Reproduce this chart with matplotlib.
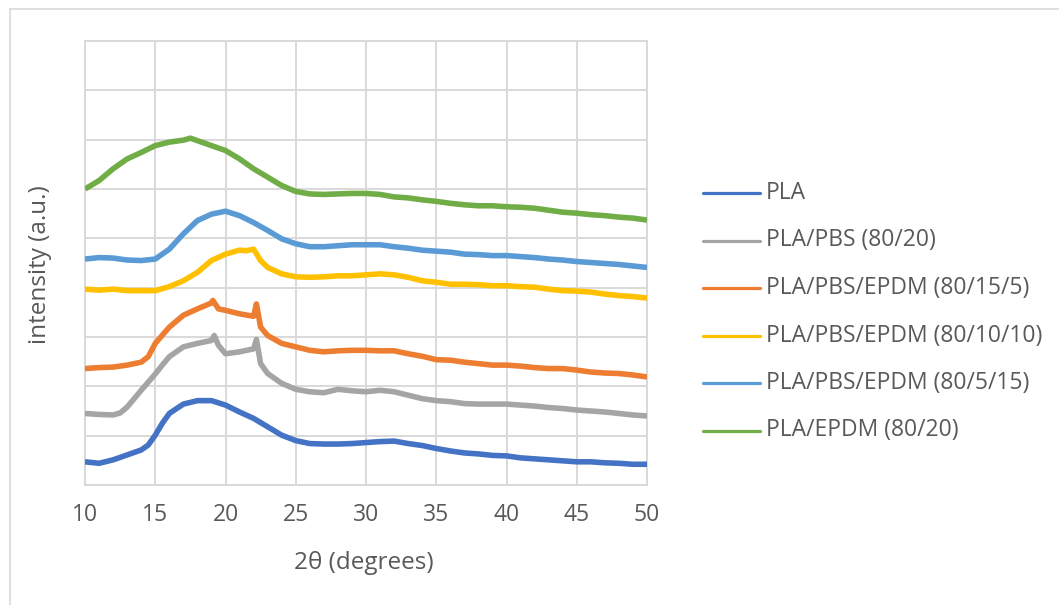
import matplotlib
matplotlib.use("Agg")
import matplotlib.pyplot as plt
from matplotlib.lines import Line2D

# ---- data: XRD patterns (intensity in arbitrary units, stacked) ----
pla_x = [10, 11, 12, 13, 14, 14.5, 15, 15.5, 16, 17, 18, 19, 20, 21, 22, 23, 24, 25, 26, 27, 28, 29,
         30, 31, 32, 33, 34, 35, 36, 37, 38, 39, 40, 41, 42, 43, 44, 45, 46, 47, 48, 49, 50]
pla_y = [0.47, 0.44, 0.51, 0.61, 0.71, 0.81, 1.01, 1.25, 1.45, 1.64, 1.71, 1.71, 1.62, 1.48, 1.35, 1.18,
         1.01, 0.90, 0.84, 0.83, 0.83, 0.84, 0.86, 0.88, 0.89, 0.84, 0.80, 0.74, 0.69, 0.65, 0.63, 0.60,
         0.59, 0.55, 0.53, 0.51, 0.49, 0.47, 0.47, 0.45, 0.44, 0.42, 0.42]

pbs_x = [10, 11, 12, 12.5, 13, 14, 15, 15.5, 16, 17, 18, 19, 19.2, 19.5, 20, 21, 21.5, 22, 22.2, 22.5,
         23, 24, 25, 26, 27, 28, 29, 30, 31, 32, 33, 34, 35, 36, 37, 38, 39, 40, 41, 42, 43, 44, 45,
         46, 47, 48, 49, 50]
pbs_y = [1.45, 1.43, 1.42, 1.46, 1.58, 1.92, 2.25, 2.43, 2.60, 2.80, 2.87, 2.93, 3.03, 2.83, 2.66, 2.70,
         2.73, 2.76, 2.95, 2.46, 2.26, 2.06, 1.94, 1.89, 1.87, 1.94, 1.91, 1.89, 1.92, 1.89, 1.82, 1.75,
         1.71, 1.69, 1.65, 1.64, 1.64, 1.64, 1.62, 1.60, 1.57, 1.55, 1.52, 1.50, 1.48, 1.45, 1.42, 1.40]

e5_x = [10, 11, 12, 13, 14, 14.5, 15, 16, 17, 18, 19, 19.1, 19.5, 20, 21, 22, 22.2, 22.5, 23, 24, 25,
        26, 27, 28, 29, 30, 31, 32, 33, 34, 35, 36, 37, 38, 39, 40, 41, 42, 43, 44, 45, 46, 47, 48,
        49, 50]
e5_y = [2.36, 2.38, 2.39, 2.43, 2.49, 2.60, 2.87, 3.20, 3.44, 3.57, 3.69, 3.74, 3.57, 3.54, 3.47, 3.42,
        3.67, 3.20, 3.03, 2.87, 2.80, 2.73, 2.70, 2.72, 2.73, 2.73, 2.72, 2.72, 2.66, 2.61, 2.54, 2.53,
        2.49, 2.46, 2.43, 2.43, 2.41, 2.38, 2.36, 2.36, 2.33, 2.29, 2.27, 2.26, 2.23, 2.19]

e10_x = [10, 11, 12, 13, 14, 15, 16, 17, 18, 19, 20, 21, 21.5, 22, 22.5, 23, 24, 25, 26, 27, 28, 29,
         30, 31, 32, 33, 34, 35, 36, 37, 38, 39, 40, 41, 42, 43, 44, 45, 46, 47, 48, 49, 50]
e10_y = [3.97, 3.95, 3.97, 3.94, 3.94, 3.94, 4.02, 4.14, 4.31, 4.55, 4.68, 4.76, 4.75, 4.78, 4.55, 4.41,
         4.28, 4.22, 4.21, 4.22, 4.24, 4.24, 4.26, 4.28, 4.26, 4.21, 4.14, 4.11, 4.07, 4.07, 4.06, 4.04,
         4.04, 4.02, 4.01, 3.97, 3.94, 3.93, 3.91, 3.87, 3.84, 3.82, 3.79]

e15_x = list(range(10, 51))
e15_y = [4.58, 4.61, 4.60, 4.56, 4.55, 4.58, 4.78, 5.09, 5.36, 5.49, 5.55, 5.46, 5.32, 5.16, 4.99, 4.89,
         4.83, 4.83, 4.85, 4.87, 4.87, 4.87, 4.83, 4.80, 4.76, 4.74, 4.72, 4.68, 4.67, 4.65, 4.65, 4.63,
         4.61, 4.58, 4.56, 4.53, 4.51, 4.49, 4.47, 4.44, 4.41]

epdm_x = [10, 11, 12, 13, 14, 15, 16, 17, 17.5, 18, 19, 20, 21, 22, 23, 24, 25, 26, 27, 28, 29, 30,
          31, 32, 33, 34, 35, 36, 37, 38, 39, 40, 41, 42, 43, 44, 45, 46, 47, 48, 49, 50]
epdm_y = [6.00, 6.17, 6.41, 6.61, 6.74, 6.88, 6.95, 6.99, 7.03, 6.98, 6.88, 6.78, 6.61, 6.41, 6.24, 6.07,
          5.95, 5.90, 5.89, 5.90, 5.91, 5.91, 5.89, 5.84, 5.82, 5.78, 5.75, 5.71, 5.68, 5.66, 5.66, 5.64,
          5.63, 5.61, 5.57, 5.53, 5.51, 5.48, 5.46, 5.43, 5.41, 5.37]

labels = ["PLA", "PLA/PBS (80/20)", "PLA/PBS/EPDM (80/15/5)", "PLA/PBS/EPDM (80/10/10)",
          "PLA/PBS/EPDM (80/5/15)", "PLA/EPDM (80/20)"]
colors = ["#4472C4", "#A5A5A5", "#ED7D31", "#FFC000", "#5B9BD5", "#70AD47"]
series = [(pla_x, pla_y), (pbs_x, pbs_y), (e5_x, e5_y), (e10_x, e10_y), (e15_x, e15_y), (epdm_x, epdm_y)]

x_ticks = [10, 15, 20, 25, 30, 35, 40, 45, 50]

# ---- figure ----
W, H = 1059, 605
plt.rcParams["font.family"] = ["Open Sans", "DejaVu Sans"]
fig = plt.figure(figsize=(W / 100, H / 100), dpi=100)

grid_c = "#D9D9D9"
text_c = "#595959"

def fx(px):
    return px / W

def fy(py):
    return 1 - py / H

# chart area border
fig.add_artist(Line2D([fx(10), 1.0], [fy(8.5), fy(8.5)], color=grid_c, lw=1.2))
fig.add_artist(Line2D([fx(10), fx(10)], [fy(8.5), 0.0], color=grid_c, lw=1.2))

ax = fig.add_axes([fx(85), fy(485), fx(647) - fx(85), fy(41) - fy(485)])
for (xs, ys), c in zip(series, colors):
    ax.plot(xs, ys, color=c, lw=4.0, solid_joinstyle="round", solid_capstyle="butt", zorder=3)

ax.set_xlim(10, 50)
ax.set_ylim(0, 9)
ax.set_xticks(x_ticks)
ax.set_yticks(range(0, 10))
ax.set_yticklabels([])
ax.grid(True, color=grid_c, lw=1.4)
ax.set_axisbelow(True)
for s in ax.spines.values():
    s.set_color(grid_c)
    s.set_linewidth(1.4)
ax.tick_params(axis="both", length=0, colors=text_c, labelsize=16.5)
ax.tick_params(axis="x", pad=13)

ax.set_xlabel("2θ (degrees)", fontsize=17.5, color=text_c)
ax.xaxis.set_label_coords((364 - 85) / 562, (485 - 563) / 444)
ax.xaxis.label.set_verticalalignment("center")
ax.set_ylabel("intensity (a.u.)", fontsize=17.5, color=text_c)
ax.yaxis.set_label_coords((40 - 85) / 562, (485 - 265) / 444)
ax.yaxis.label.set_verticalalignment("center")

# legend entries
for i, (lab, c) in enumerate(zip(labels, colors)):
    py = 193 + i * 47.5
    fig.add_artist(Line2D([fx(703), fx(760)], [fy(py), fy(py)], color=c, lw=2.3,
                          solid_capstyle="round"))
    fig.text(fx(766), fy(py), lab, fontsize=16.5, color=text_c, va="center", ha="left")

fig.savefig("out.png", dpi=100)
